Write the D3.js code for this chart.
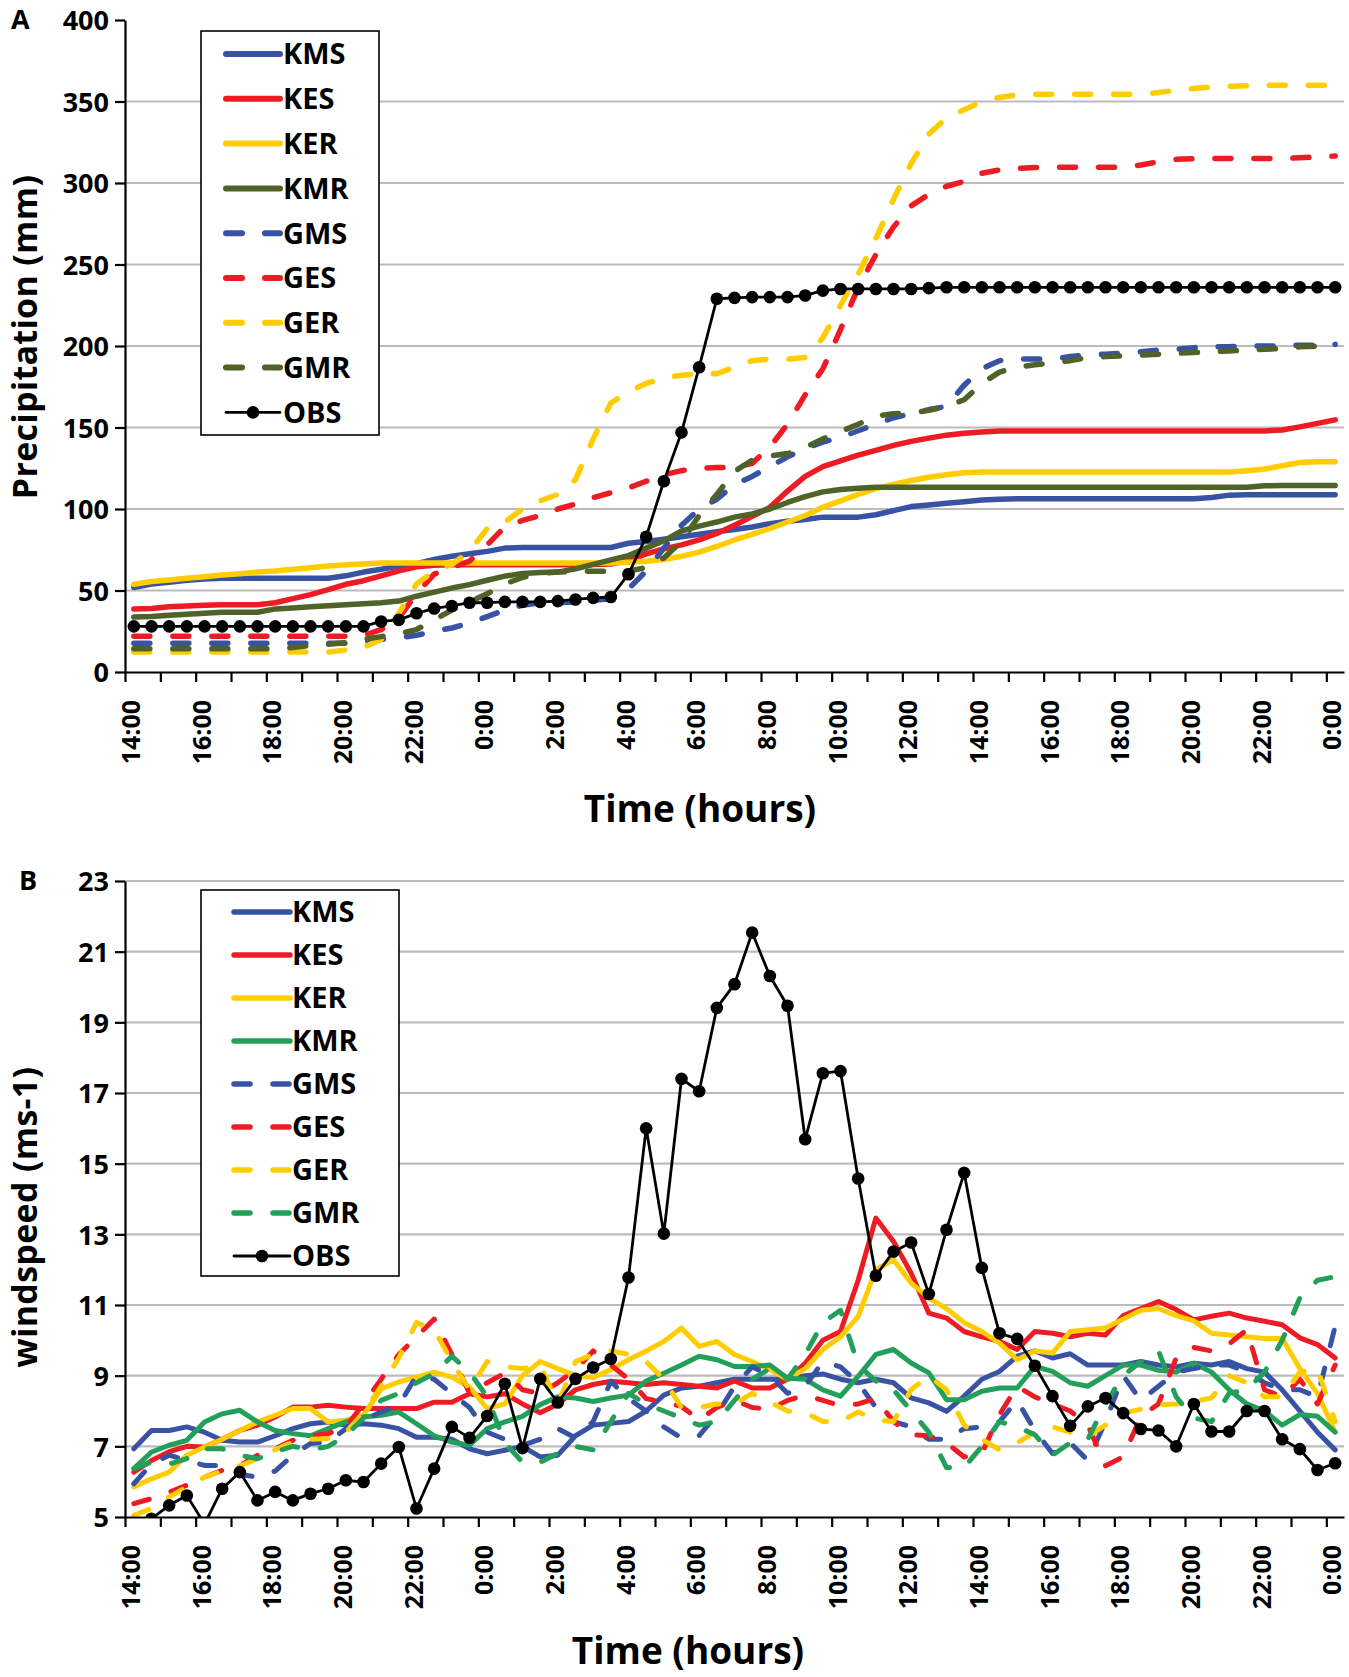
<!DOCTYPE html>
<html>
<head>
<meta charset="utf-8">
<script src="https://cdn.jsdelivr.net/npm/d3@7"></script>
<style>
  body { margin: 0; background: #fff; }
  text { font-family: "Open Sans", Lato, sans-serif; font-weight: 700; fill: #000; }
</style>
</head>
<body>
<script>
// half-hourly categories, 14:00 day 1 to 0:00 day 3
const times = [
  "14:00","14:30","15:00","15:30","16:00","16:30","17:00","17:30","18:00","18:30",
  "19:00","19:30","20:00","20:30","21:00","21:30","22:00","22:30","23:00","23:30",
  "0:00","0:30","1:00","1:30","2:00","2:30","3:00","3:30","4:00","4:30",
  "5:00","5:30","6:00","6:30","7:00","7:30","8:00","8:30","9:00","9:30",
  "10:00","10:30","11:00","11:30","12:00","12:30","13:00","13:30","14:00","14:30",
  "15:00","15:30","16:00","16:30","17:00","17:30","18:00","18:30","19:00","19:30",
  "20:00","20:30","21:00","21:30","22:00","22:30","23:00","23:30","0:00"
];
const xLabels = ["14:00","16:00","18:00","20:00","22:00","0:00","2:00","4:00","6:00",
  "8:00","10:00","12:00","14:00","16:00","18:00","20:00","22:00","0:00"];

const precipTicks = [0, 50, 100, 150, 200, 250, 300, 350, 400];
const windTicks = [5, 7, 9, 11, 13, 15, 17, 19, 21, 23];

// ---- A: precipitation (mm)
const precipKMS = [51.8,54,55,56.3,57,57.5,57.5,57.5,57.5,57.5,57.5,57.5,59,61.3,63,65,66.5,69,71,72.6,
  74,76,76.4,76.4,76.4,76.4,76.4,76.4,79,80,81.4,83,84.5,86,87.4,89,91,92.5,93.5,95,
  95,95,96.5,99,101.5,102.5,103.5,104.5,105.5,106,106.3,106.3,106.3,106.3,106.3,106.3,106.3,106.3,106.3,106.3,
  106.3,107,108.5,108.8,108.8,108.8,108.8,108.8,108.8];
const precipKES = [38.7,39,40,40.5,41,41.2,41.2,41.2,42.5,45,47.5,50.5,53.8,56,59,62,64.5,65.5,65.8,65.8,
  65.8,65.8,65.8,65.8,65.8,65.8,66,66.3,68.5,72.5,75.5,78,81,85,90,95.5,101,111,120,126,
  129.5,133,136,139,141.5,143.5,145.3,146.5,147.3,147.9,147.9,147.9,147.9,147.9,147.9,147.9,147.9,147.9,147.9,147.9,
  147.9,147.9,147.9,147.9,147.9,148.5,150.4,152.5,154.7];
const precipKER = [53.8,55.5,56.5,57.5,58.5,59.5,60.3,61.3,62,63,64,65,65.8,66.3,66.8,66.8,66.8,66.8,66.8,66.8,
  66.8,66.8,66.8,66.8,66.8,66.8,66.8,66.8,67.3,68,69,71,73.5,77,81,84.5,88,92,96,101,
  105,109,112.5,115,117.5,119.5,121,122.2,122.7,122.7,122.7,122.7,122.7,122.7,122.7,122.7,122.7,122.7,122.7,122.7,
  122.7,122.7,122.7,123.5,124.5,126.5,128.5,129,129];
const precipKMR = [33.7,34,34.8,35.5,36,36.7,36.7,36.7,38.7,39.3,40,40.6,41.2,41.8,42.5,43.5,46.5,49,51.5,53.6,
  56.3,58.8,60.5,61,61.3,63.3,66,68.8,71.4,76,80.5,86.5,89.5,92,95,97,100,104,107.6,110.5,
  112,112.8,113.3,113.3,113.3,113.3,113.3,113.3,113.3,113.3,113.3,113.3,113.3,113.3,113.3,113.3,113.3,113.3,113.3,113.3,
  113.3,113.3,113.3,113.3,114.2,114.4,114.4,114.4,114.4];
const precipGMS = [17.7,17.7,17.7,17.7,17.7,17.7,17.7,17.7,17.7,17.7,17.7,17.7,17.7,18.5,20,21,22.5,25,27,30,
  34,38,41,42.5,42.5,43,44,45,51,62,76,90,100,106,115,120,126,132,137,141,
  144,148,152,156,158.5,161,163,176,186,191,192,192,192,193.5,194.5,195,195.7,196.5,197.5,198,
  199,199.5,199.5,200,200,200,200.5,200.5,201];
const precipGES = [22,22,22,22,22,22,22,22,22,22,22,22,22,22.5,26,33,48,60,64,68,
  78,89,93,96,100,103,107,110,113,117,121,123.5,125,125.5,125.5,128,138,152,170,186,
  210,236,256,273,286,293,298,301,306,308,309,309.5,309.6,309.6,309.6,309.6,309.6,311,313,314.5,
  315,315,315,315,315,315,315.5,316,316.6];
const precipGER = [12.2,12.2,12.2,12.2,12.2,12.2,12.2,12.2,12.2,12.2,12.2,12.2,13.5,15,20,36,54,62,66,74,
  88,92,100,105,109,118,143,165,172,177,180.5,182,183,183,187,191,192,192,193,205,
  225,244,266,290,312,330,340,345,350,352.5,354,354.4,354.4,354.4,354.4,354.4,354.4,354.4,355.5,357,
  358,359,359.4,359.7,360,360,360,360,360];
const precipGMR = [14.2,14.2,14.2,14.2,14.2,14.2,14.2,14.2,14.2,15,16.2,17,18,20,21.7,23.5,26,32,38,43,
  48,54,58,60.5,61.3,61.8,61.8,61.8,62,64,70,80,96,109,123,130,132.5,134,137.8,143,
  147.5,152,157,158.5,159,160.5,163,167,177,184,187,188.5,189.5,191,193,193.5,194,194.5,195,195.5,
  196,196.5,197,197.5,198,198.5,199.5,200,200.8];
const precipOBS = [28,28,28,28,28,28,28,28,28,28,28,28,28,28,31,32,36,39,40.5,42.5,
  42.5,43,43,43,43.5,44.5,45.5,46,60,83,117,147,187,229,229.5,230,230,230,231,234,
  235,235,235,235,235,235.5,236,236,236,236,236,236,236,236,236,236,236,236,236,236,
  236,236,236,236,236,236,236,236,236];

// ---- B: windspeed (ms-1)
const windKMS = [6.93,7.45,7.45,7.55,7.4,7.17,7.12,7.12,7.3,7.5,7.64,7.69,7.6,7.64,7.6,7.5,7.26,7.26,7.2,6.93,
  6.79,6.89,7.0,6.7,6.75,7.3,7.6,7.65,7.7,8.0,8.45,8.65,8.7,8.8,8.9,8.9,8.9,8.9,9.0,9.05,
  8.9,8.8,8.9,8.8,8.37,8.23,7.99,8.42,8.9,9.12,9.55,9.7,9.5,9.62,9.3,9.3,9.3,9.4,9.3,9.25,
  9.35,9.3,9.4,9.2,9.1,8.6,8.0,7.4,6.9];
const windKES = [6.27,6.6,6.85,7.0,6.98,7.2,7.45,7.6,7.83,8.11,8.11,8.16,8.11,8.07,8.07,8.07,8.07,8.25,8.25,8.49,
  8.4,8.49,8.2,7.95,8.2,8.6,8.75,8.84,8.8,8.75,8.8,8.75,8.7,8.65,8.85,8.65,8.65,8.9,9.35,10.0,
  10.25,11.7,13.46,12.8,11.9,10.77,10.63,10.25,10.1,9.97,9.74,10.25,10.2,10.1,10.2,10.15,10.7,10.9,11.1,10.87,
  10.58,10.68,10.77,10.63,10.54,10.44,10.07,9.88,9.5];
const windKER = [5.85,6.08,6.27,6.75,6.98,7.2,7.45,7.69,7.88,8.07,8.07,7.69,7.74,7.88,8.63,8.82,8.96,9.1,8.96,8.68,
  8.07,8.2,9.0,9.4,9.2,9.0,8.95,9.17,9.45,9.7,9.97,10.35,9.83,9.97,9.6,9.4,9.17,8.9,9.2,9.74,
  10.1,10.68,12.0,12.28,11.62,11.2,10.9,10.5,10.25,9.92,9.45,9.7,9.64,10.25,10.3,10.35,10.6,10.85,10.9,10.7,
  10.55,10.2,10.15,10.1,10.05,10.05,9.2,8.5,7.4];
const windKMR = [6.37,6.84,7.03,7.17,7.69,7.92,8.02,7.69,7.45,7.36,7.3,7.5,7.69,7.83,7.88,7.97,7.64,7.3,7.12,7.03,
  7.5,7.69,7.85,8.18,8.4,8.37,8.27,8.37,8.45,8.85,9.07,9.3,9.55,9.45,9.26,9.26,9.3,8.93,8.9,8.6,
  8.42,8.98,9.6,9.74,9.36,9.08,8.32,8.32,8.56,8.65,8.65,9.26,9.12,8.8,8.7,9.0,9.3,9.3,9.15,9.1,
  9.35,9.1,8.6,8.2,8.0,7.6,7.9,7.85,7.4];
const windGMS = [5.94,6.5,6.75,6.6,6.46,6.46,6.2,6.13,6.3,6.75,7.08,7.12,7.5,7.75,7.97,8.16,9.0,8.9,8.49,8.1,
  7.4,7.2,7.03,7.2,7.5,7.24,7.7,8.84,8.35,8.0,7.55,7.24,7.3,7.9,8.7,9.25,9.0,8.5,8.7,9.4,
  9.25,8.8,8.1,7.7,7.55,7.2,7.2,7.5,7.55,7.7,8.3,7.45,6.8,7.1,6.6,7.7,9.0,8.3,8.7,9.1,
  9.2,9.3,9.3,9.1,8.8,8.6,8.6,8.4,10.4];
const windGES = [5.38,5.52,5.7,5.9,6.13,6.32,6.46,6.75,6.93,7.17,7.3,7.36,7.55,8.2,8.9,9.6,10.1,10.6,9.6,8.5,
  8.8,9.07,8.6,8.5,8.8,9.17,9.7,9.3,8.9,8.35,8.25,8.13,7.75,8.1,8.3,8.1,8.05,8.3,8.45,8.3,
  8.15,8.2,8.35,7.7,7.33,7.3,7.1,6.7,6.8,7.9,8.7,8.4,8.2,8.0,7.6,6.45,6.7,7.85,8.2,9.5,
  9.8,9.7,9.9,10.3,8.6,8.4,8.9,8.2,9.3];
const windGER = [5.05,5.24,5.57,5.85,6.13,6.3,6.45,6.65,6.9,7.12,7.2,7.22,7.4,7.95,8.7,9.5,10.5,10.3,9.4,8.6,
  9.4,9.25,9.2,9.3,8.2,9.4,9.6,9.7,9.6,9.4,8.9,8.1,8.1,8.2,8.2,8.5,8.25,8.0,7.95,7.7,
  7.7,7.97,7.75,7.7,8.6,9.0,8.6,7.6,7.2,6.9,7.1,7.4,7.55,7.4,7.28,7.6,7.94,8.05,8.18,8.2,
  8.27,8.37,9.0,8.8,8.4,8.4,9.1,9.2,7.7];
const windGMR = [6.37,6.55,6.5,6.65,6.93,6.93,6.75,6.65,6.85,7.0,6.9,7.0,7.3,7.8,8.3,8.5,8.8,9.06,9.55,9.1,
  8.4,7.1,6.55,6.55,6.8,7.0,6.9,7.7,8.5,8.2,8.0,7.8,7.6,7.7,8.3,8.9,9.2,8.9,9.6,10.5,
  10.85,9.3,8.85,8.6,8.0,7.4,6.4,6.4,7.0,7.7,7.55,7.33,6.75,7.1,7.2,8.2,9.0,9.4,9.7,8.4,
  7.8,7.7,8.5,8.6,9.1,10.0,11.2,11.7,11.8];
const windOBS = [4.5,4.95,5.33,5.61,4.8,5.8,6.27,5.47,5.71,5.47,5.66,5.8,6.04,5.99,6.51,6.98,5.24,6.37,7.55,7.24,
  7.86,8.77,6.95,8.91,8.24,8.91,9.23,9.47,11.78,16.0,13.02,17.4,17.05,19.41,20.08,21.54,20.31,19.47,15.69,17.56,
  17.62,14.58,11.83,12.51,12.77,11.31,13.13,14.74,12.05,10.2,10.04,9.28,8.42,7.58,8.13,8.37,7.94,7.49,7.45,7.0,
  8.2,7.42,7.42,8.0,8.0,7.2,6.92,6.33,6.52];

const blue = "#3953a4", red = "#ed1c24", yellow = "#ffcc00", olive = "#4f6228", green = "#22a05a";

const precipSeries = [
  { name: "KMS", values: precipKMS, color: blue, dashed: false },
  { name: "KES", values: precipKES, color: red, dashed: false },
  { name: "KER", values: precipKER, color: yellow, dashed: false },
  { name: "KMR", values: precipKMR, color: olive, dashed: false },
  { name: "GMS", values: precipGMS, color: blue, dashed: true },
  { name: "GES", values: precipGES, color: red, dashed: true },
  { name: "GER", values: precipGER, color: yellow, dashed: true },
  { name: "GMR", values: precipGMR, color: olive, dashed: true },
  { name: "OBS", values: precipOBS, color: "#000", obs: true }
];
const windSeries = [
  { name: "KMS", values: windKMS, color: blue, dashed: false },
  { name: "KES", values: windKES, color: red, dashed: false },
  { name: "KER", values: windKER, color: yellow, dashed: false },
  { name: "KMR", values: windKMR, color: green, dashed: false },
  { name: "GMS", values: windGMS, color: blue, dashed: true },
  { name: "GES", values: windGES, color: red, dashed: true },
  { name: "GER", values: windGER, color: yellow, dashed: true },
  { name: "GMR", values: windGMR, color: green, dashed: true },
  { name: "OBS", values: windOBS, color: "#000", obs: true }
];

const W = 1349, H = 1677;
const plotLeft = 125, plotRight = 1344;

const svg = d3.select("body")
  .append("svg")
  .attr("width", W)
  .attr("height", H);

const styleLine = (sel, s, lw) => {
  sel.attr("fill", "none")
    .attr("stroke", s.color)
    .attr("stroke-linejoin", "round")
    .attr("stroke-linecap", "round");
  if (s.obs) {
    sel.attr("stroke-width", 2.8);
  } else {
    sel.attr("stroke-width", lw);
    if (s.dashed) sel.attr("stroke-dasharray", "16,23");
  }
};

const drawPanel = (p) => {
  const x = d3.scaleBand()
    .domain(d3.range(times.length))
    .range([plotLeft, plotRight]);
  const xc = (i) => x(i) + x.bandwidth() / 2;
  // tick marks sit on the hour boundaries between categories
  const xb = d3.scaleLinear().domain([0, times.length]).range([plotLeft, plotRight]);
  const y = d3.scaleLinear()
    .domain([p.ticks[0], p.ticks[p.ticks.length - 1]])
    .range([p.bottom, p.top]);

  const g = svg.append("g");

  g.selectAll("line.grid")
    .data(p.grid)
    .enter()
    .append("line")
    .attr("class", "grid")
    .attr("x1", plotLeft)
    .attr("x2", plotRight)
    .attr("y1", d => y(d))
    .attr("y2", d => y(d))
    .attr("stroke", "#bcbcbc")
    .attr("stroke-width", 2.2);

  const clipId = "clip-" + p.id;
  g.append("clipPath")
    .attr("id", clipId)
    .append("rect")
    .attr("x", plotLeft)
    .attr("y", p.top - 10)
    .attr("width", plotRight - plotLeft + 10)
    .attr("height", p.bottom - p.top + 10);

  const line = d3.line()
    .x((d, i) => xc(i))
    .y(d => y(d));

  const plot = g.append("g").attr("clip-path", `url(#${clipId})`);
  p.series.forEach((s) => {
    styleLine(plot.append("path").datum(s.values).attr("d", line), s, p.lw);
    if (s.obs) {
      plot.selectAll("circle.obs-" + p.id)
        .data(s.values)
        .enter()
        .append("circle")
        .attr("class", "obs-" + p.id)
        .attr("cx", (d, i) => xc(i))
        .attr("cy", d => y(d))
        .attr("r", 6.3)
        .attr("fill", "#000");
    }
  });

  // y axis
  const yAxis = g.append("g")
    .attr("transform", `translate(${plotLeft},0)`)
    .call(d3.axisLeft(y).tickValues(p.ticks).tickSize(10).tickSizeOuter(0).tickPadding(6));
  yAxis.selectAll("path, line").attr("stroke", "#000").attr("stroke-width", 2.2);
  yAxis.selectAll("text")
    .style("font-family", "'Open Sans', sans-serif")
    .style("font-weight", 700)
    .style("font-size", "27px")
    .attr("dy", "0.36em");

  // x axis: hourly ticks
  const xAxis = g.append("g")
    .attr("transform", `translate(0,${p.bottom})`)
    .call(d3.axisBottom(xb)
      .tickValues(d3.range(0, times.length, 2))
      .tickFormat("")
      .tickSize(10)
      .tickSizeOuter(0));
  xAxis.selectAll("path, line").attr("stroke", "#000").attr("stroke-width", 2.2);

  // x labels every 2 hours, rotated
  const labelIdx = xLabels.map((t, k) => k * 4);
  const xLab = g.append("g")
    .attr("transform", `translate(0,${p.bottom})`)
    .call(d3.axisBottom(x)
      .tickValues(labelIdx)
      .tickFormat((i, k) => xLabels[k])
      .tickSize(0));
  xLab.select(".domain").remove();
  xLab.selectAll("text")
    .style("font-family", "'Open Sans', sans-serif")
    .style("font-weight", 700)
    .style("font-size", "25px")
    .attr("transform", "rotate(-90)")
    .attr("text-anchor", "end")
    .attr("x", -28)
    .attr("y", 0)
    .attr("dy", "0.24em");

  // titles
  g.append("text")
    .attr("transform", `translate(37,${p.yTitleY}) rotate(-90)`)
    .attr("text-anchor", "middle")
    .style("font-size", "34px")
    .style("letter-spacing", "0.3px")
    .text(p.yTitle);
  g.append("text")
    .attr("x", p.xTitleX)
    .attr("y", p.xTitleY)
    .attr("text-anchor", "middle")
    .style("font-size", "37px")
    .text("Time (hours)");
  g.append("text")
    .attr("x", p.letterX)
    .attr("y", p.letterY)
    .style("font-size", "27px")
    .text(p.letter);

  // legend
  const lg = g.append("g");
  lg.append("rect")
    .attr("x", p.legend.x)
    .attr("y", p.legend.y)
    .attr("width", p.legend.w)
    .attr("height", p.legend.h)
    .attr("fill", "#fff")
    .attr("stroke", "#000")
    .attr("stroke-width", 1.6);
  const rows = lg.selectAll("g.row")
    .data(p.series)
    .enter()
    .append("g")
    .attr("transform", (d, i) => `translate(0,${p.legend.first + i * p.legend.step})`);
  rows.each(function (s) {
    const row = d3.select(this);
    styleLine(row.append("line")
      .attr("x1", p.legend.lx1)
      .attr("x2", p.legend.lx2), s, p.lw + 0.5);
    if (s.obs) {
      row.append("circle")
        .attr("cx", (p.legend.lx1 + p.legend.lx2) / 2)
        .attr("r", 6.3)
        .attr("fill", "#000");
    }
    row.append("text")
      .attr("x", p.legend.tx)
      .attr("dy", "0.36em")
      .style("font-size", "29px")
      .text(s.name);
  });
};

drawPanel({
  id: "a", series: precipSeries, ticks: precipTicks, grid: [50, 100, 150, 200, 250, 300, 350],
  top: 20, bottom: 672, lw: 5.5,
  yTitle: "Precipitation (mm)", yTitleY: 337, xTitleX: 700, xTitleY: 822,
  letter: "A", letterX: 11, letterY: 29,
  legend: { x: 201, y: 31, w: 178, h: 404, first: 54, step: 44.8, lx1: 226, lx2: 280, tx: 283 }
});

drawPanel({
  id: "b", series: windSeries, ticks: windTicks, grid: [7, 9, 11, 13, 15, 17, 19, 21, 23],
  top: 881, bottom: 1517, lw: 5,
  yTitle: "windspeed (ms-1)", yTitleY: 1217, xTitleX: 688, xTitleY: 1664,
  letter: "B", letterX: 19, letterY: 890,
  legend: { x: 201, y: 890, w: 198, h: 386, first: 912, step: 43, lx1: 234, lx2: 290, tx: 292 }
});
</script>
</body>
</html>
